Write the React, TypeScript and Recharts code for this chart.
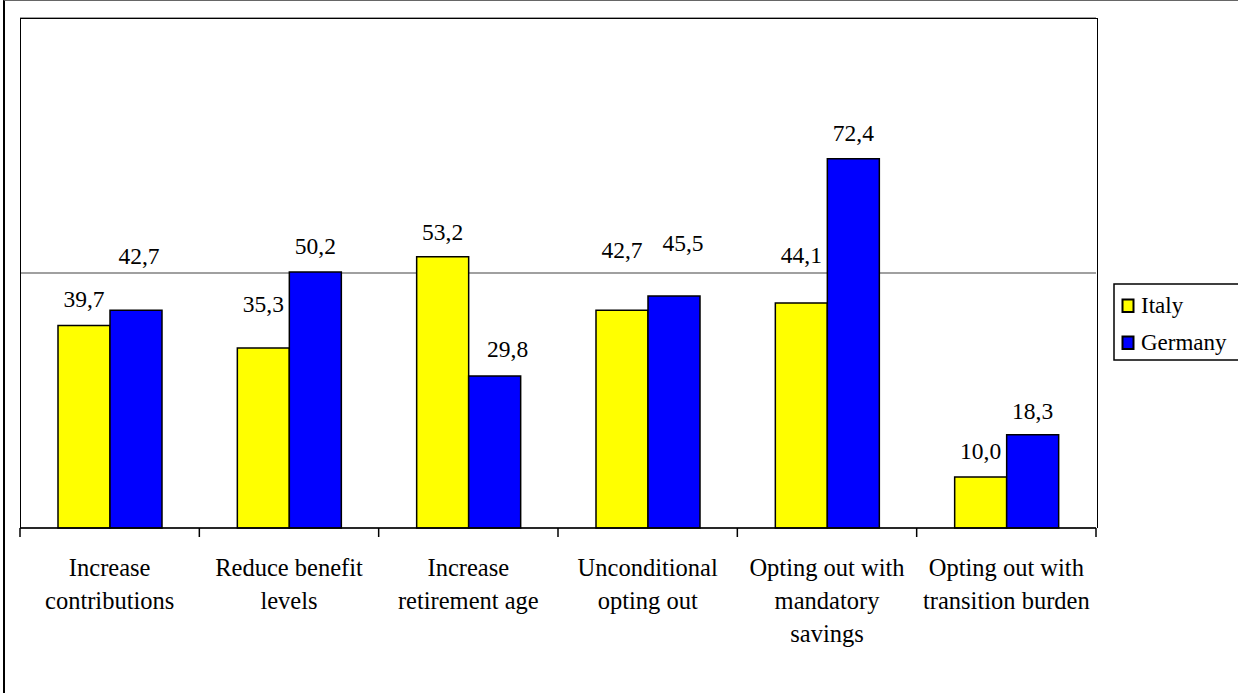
import { Bar, BarChart, CartesianGrid, LabelList, XAxis, YAxis } from 'recharts';

const categories = [
  'Increase\ncontributions',
  'Reduce benefit\nlevels',
  'Increase\nretirement age',
  'Unconditional\nopting out',
  'Opting out with\nmandatory\nsavings',
  'Opting out with\ntransition burden',
];
const italy = [39.7, 35.3, 53.2, 42.7, 44.1, 10.0];
const germany = [42.7, 50.2, 29.8, 45.5, 72.4, 18.3];
const yTicks = [0, 50, 100];
const seriesNames = ['Italy', 'Germany'];

// label placement (px above bar top / px sideways), the source has hand-moved labels
const italyLift = [27, 44, 25, 60, 48, 26];
const germanyLift = [54, 26, 27, 53, 26, 24];
const germanyShift = [3, 0, 13, 9, 0, 0];

const W = 1238;
const H = 693;
const M = { top: 18, right: 142, bottom: 0, left: 20 };
const PLOT_W = W - M.left - M.right;
const PLOT_H = 510;
const FONT = 'Liberation Serif';
const YELLOW = '#FFFF00';
const BLUE = '#0000FF';

const data = categories.map((c, i) => ({ name: c, italy: italy[i], germany: germany[i] }));

const fmt = (v: number) => Number(v).toFixed(1).replace('.', ',');

const makeLabel = (lift: number[], shift: number[]) => (props: any) => {
  const { x, y, width, value, index } = props;
  return (
    <text
      x={Number(x) + Number(width) / 2 + (shift[index] || 0)}
      y={Number(y) - lift[index]}
      textAnchor="middle"
      dominantBaseline="central"
      fontFamily={FONT}
      fontSize={23.5}
      fill="#000"
    >
      {fmt(value)}
    </text>
  );
};

function CategoryTick(props: any) {
  const { x, y, payload, index } = props;
  const bw = PLOT_W / categories.length;
  const lines = String(payload.value).split('\n');
  return (
    <g>
      <line x1={x - bw / 2} x2={x - bw / 2} y1={y} y2={y + 9} stroke="#000" strokeWidth={1.5} />
      {index === categories.length - 1 && (
        <line x1={x + bw / 2} x2={x + bw / 2} y1={y} y2={y + 9} stroke="#000" strokeWidth={1.5} />
      )}
      <text x={x} y={y + 48} textAnchor="middle" fontFamily={FONT} fontSize={24.5} fill="#000">
        {lines.map((l, i) => (
          <tspan key={i} x={x} dy={i === 0 ? 0 : 33}>
            {l}
          </tspan>
        ))}
      </text>
    </g>
  );
}

export default function App() {
  return (
    <div style={{ position: 'absolute', left: 0, top: 0, width: W, height: H, background: '#fff', overflow: 'hidden' }}>
      {/* outer chart frame */}
      <div
        style={{
          position: 'absolute',
          left: 3,
          top: 0,
          width: W,
          height: H + 10,
          borderLeft: '2px solid #000',
          borderTop: '1.5px solid #666',
          boxSizing: 'border-box',
        }}
      />
      <BarChart
        width={W}
        height={H}
        data={data}
        margin={M}
        barCategoryGap={38}
        barGap={0}
        style={{ position: 'absolute', left: 0, top: 0 }}
      >
        <CartesianGrid vertical={false} stroke="#808080" strokeWidth={1.5} />
        <YAxis hide domain={[0, 100]} ticks={yTicks} />
        <XAxis
          dataKey="name"
          height={H - M.top - PLOT_H}
          axisLine={{ stroke: '#000', strokeWidth: 1.5 }}
          tickLine={false}
          tickSize={0}
          tickMargin={0}
          interval={0}
          tick={<CategoryTick />}
        />
        <Bar dataKey="italy" name={seriesNames[0]} fill={YELLOW} stroke="#000" strokeWidth={1.5} isAnimationActive={false}>
          <LabelList dataKey="italy" content={makeLabel(italyLift, [0, 0, 0, 0, 0, 0])} />
        </Bar>
        <Bar dataKey="germany" name={seriesNames[1]} fill={BLUE} stroke="#000" strokeWidth={1.5} isAnimationActive={false}>
          <LabelList dataKey="germany" content={makeLabel(germanyLift, germanyShift)} />
        </Bar>
      </BarChart>
      {/* plot area frame */}
      <div
        style={{
          position: 'absolute',
          left: M.left,
          top: M.top,
          width: PLOT_W + 1.5,
          height: PLOT_H,
          borderLeft: '1.5px solid #000',
          borderTop: '1.5px solid #000',
          borderRight: '1.5px solid #000',
          boxSizing: 'border-box',
          pointerEvents: 'none',
        }}
      />
      {/* legend */}
      <svg width={130} height={78} style={{ position: 'absolute', left: 1113, top: 283 }}>
        <rect x={1} y={1} width={140} height={76} fill="#fff" stroke="#000" strokeWidth={1.5} />
        {seriesNames.map((n, i) => (
          <g key={n}>
            <rect x={9.5} y={16.5 + i * 37} width={11} height={12.5} fill={i === 0 ? YELLOW : BLUE} stroke="#000" strokeWidth={2} />
            <text x={28} y={30 + i * 37} fontFamily={FONT} fontSize={23} fill="#000">
              {n}
            </text>
          </g>
        ))}
      </svg>
    </div>
  );
}
